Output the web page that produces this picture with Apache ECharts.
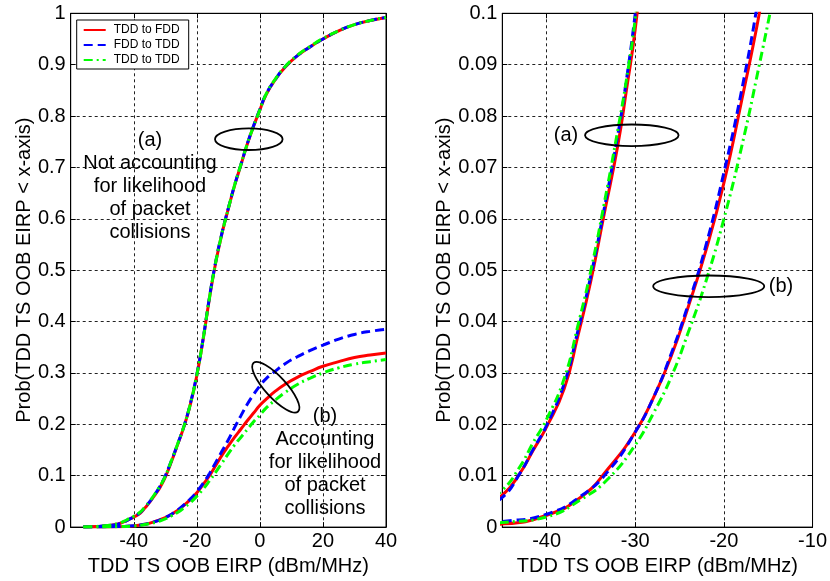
<!DOCTYPE html>
<html><head><meta charset="utf-8">
<script src="https://cdn.jsdelivr.net/npm/echarts@6/dist/echarts.min.js"></script>
<style>html,body{margin:0;padding:0;background:#fff}#c{width:830px;height:581px}</style>
</head><body><div id="c"></div>
<script>
const seriesNames = ['TDD to FDD', 'FDD to TDD', 'TDD to TDD'];
// curve group (a): not accounting for packet collisions
const xA = [-56,-52,-48,-45,-43,-41.5,-40,-38,-36.5,-35,-33.5,-32,-31,-30,-28,-26,-24,-22,-20,-18,-16,-14,-12,-10,-8,-6,-4,-2,0,2,5,8,12,16,20,25,30,35,40];
const redA = [0,0.001,0.003,0.0062,0.0105,0.015,0.0195,0.027,0.037,0.048,0.061,0.074,0.085,0.097,0.128,0.162,0.197,0.24,0.295,0.365,0.445,0.515,0.572,0.62,0.665,0.705,0.745,0.78,0.812,0.842,0.872,0.895,0.918,0.935,0.95,0.966,0.978,0.986,0.992];
const blueA = [0,0.001,0.003,0.0058,0.0105,0.0152,0.0198,0.028,0.038,0.049,0.062,0.076,0.087,0.1,0.13,0.163,0.198,0.242,0.297,0.367,0.447,0.517,0.573,0.621,0.666,0.706,0.746,0.781,0.813,0.843,0.872,0.896,0.918,0.935,0.95,0.966,0.978,0.986,0.992];
const greenA = [0,0.0012,0.0035,0.0072,0.0118,0.0165,0.021,0.029,0.039,0.05,0.063,0.077,0.087,0.099,0.13,0.163,0.198,0.241,0.296,0.366,0.446,0.516,0.572,0.62,0.666,0.706,0.746,0.78,0.812,0.843,0.873,0.896,0.919,0.936,0.951,0.966,0.978,0.986,0.992];
// curve group (b): accounting for packet collisions
const xB = [-56,-50,-45,-40,-36,-33,-30,-28,-26,-24,-22,-20,-18,-16,-14,-12,-10,-8,-6,-4,-2,0,2,5,8,12,16,20,25,30,35,40];
const redB = [0,0.0003,0.0006,0.0023,0.006,0.0115,0.0185,0.025,0.033,0.043,0.054,0.067,0.083,0.1,0.12,0.14,0.158,0.175,0.191,0.207,0.222,0.237,0.249,0.265,0.278,0.292,0.303,0.313,0.322,0.33,0.335,0.339];
const blueB = [0,0.0004,0.0011,0.0025,0.0062,0.011,0.0185,0.025,0.0335,0.0435,0.055,0.069,0.085,0.104,0.126,0.148,0.17,0.194,0.217,0.239,0.258,0.275,0.289,0.304,0.318,0.332,0.344,0.354,0.366,0.375,0.381,0.385];
const greenB = [0,0.0003,0.0009,0.002,0.0055,0.0095,0.016,0.022,0.029,0.038,0.048,0.06,0.074,0.09,0.107,0.125,0.143,0.16,0.175,0.19,0.205,0.218,0.232,0.248,0.262,0.278,0.29,0.3,0.31,0.317,0.322,0.326];

const FONT = '"Liberation Sans", Arial, sans-serif';
const colors = ['#ff0000', '#0000ff', '#00ff00'];
const dashes = ['solid', [9, 5], [9, 4, 2, 4]];
const curves = [[redA, redB], [blueA, blueB], [greenA, greenB]];
function pairs(xs, ys) { return xs.map((x, i) => [x, ys[i]]); }

const series = [];
for (let g = 0; g < 2; g++) for (let s = 0; s < 3; s++) for (let c = 0; c < 2; c++) {
  series.push({
    name: seriesNames[s], type: 'line', xAxisIndex: g, yAxisIndex: g,
    data: pairs(c === 0 ? xA : xB, curves[s][c]),
    showSymbol: false, symbol: 'none', smooth: 0.5,
    lineStyle: { color: colors[s], width: 3, type: dashes[s] },
    itemStyle: { color: colors[s] }, z: 3 + s, silent: true, clip: true
  });
}

const axisCommon = {
  type: 'value',
  axisLine: { show: true, onZero: false, lineStyle: { color: '#000', width: 1 } },
  axisTick: { show: true, inside: true, length: 5, lineStyle: { color: '#000' } },
  axisLabel: { color: '#000', fontSize: 20, fontFamily: FONT, margin: 5 },
  splitLine: { show: true, lineStyle: { color: '#222', width: 1, type: [3, 3] } },
  nameLocation: 'middle',
  nameTextStyle: { color: '#000', fontSize: 20, fontFamily: FONT }
};
const xName = 'TDD TS OOB EIRP (dBm/MHz)';
const yName = 'Prob(TDD TS OOB EIRP < x-axis)';
function ax(extra) { return Object.assign({}, axisCommon, extra); }
function sec(extra) {
  return Object.assign({}, axisCommon, { axisLabel: { show: false }, splitLine: { show: false }, name: '' }, extra);
}

const option = {
  animation: false,
  backgroundColor: '#fff',
  grid: [
    { left: 70.7, top: 13.3, width: 315.3, height: 515, show: true, borderColor: '#000', borderWidth: 1, backgroundColor: 'transparent' },
    { left: 502.3, top: 13.3, width: 316, height: 515, show: true, borderColor: '#000', borderWidth: 1, backgroundColor: 'transparent' }
  ],
  xAxis: [
    ax({ gridIndex: 0, min: -60, max: 40, interval: 20, name: xName, nameGap: 27,
         axisLabel: Object.assign({}, axisCommon.axisLabel, { showMinLabel: false, margin: 4 }) }),
    ax({ gridIndex: 1, min: -45, max: -10, splitNumber: 4, name: xName, nameGap: 27,
         axisLabel: Object.assign({}, axisCommon.axisLabel, { showMinLabel: false, margin: 4 }) }),
    sec({ gridIndex: 0, position: 'top', min: -60, max: 40, interval: 20 }),
    sec({ gridIndex: 1, position: 'top', min: -45, max: -10, splitNumber: 4 })
  ],
  yAxis: [
    ax({ gridIndex: 0, min: 0, max: 1, interval: 0.1, name: yName, nameGap: 36 }),
    ax({ gridIndex: 1, min: 0, max: 0.1, interval: 0.01, name: yName, nameGap: 38 }),
    sec({ gridIndex: 0, position: 'right', min: 0, max: 1, interval: 0.1 }),
    sec({ gridIndex: 1, position: 'right', min: 0, max: 0.1, interval: 0.01 })
  ],
  legend: {
    data: seriesNames, left: 76.7, top: 20, orient: 'vertical',
    padding: [4, 9, 3, 6], itemGap: 3, itemWidth: 22, itemHeight: 13,
    backgroundColor: '#fff', borderColor: '#000', borderWidth: 1, borderRadius: 0,
    itemStyle: { color: 'transparent', borderWidth: 0, opacity: 0 },
    textStyle: { fontSize: 12, color: '#000', fontFamily: FONT, padding: [0, 0, 0, 3] },
    selectedMode: false, z: 50
  },
  series: series,
  graphic: [
    { type: 'ellipse', x: 248.8, y: 139.2, shape: { cx: 0, cy: 0, rx: 33.8, ry: 10.8 }, style: { fill: 'none', stroke: '#000', lineWidth: 1.8 }, z: 100 },
    { type: 'ellipse', x: 275.8, y: 387.2, rotation: -47.5 * Math.PI / 180, shape: { cx: 0, cy: 0, rx: 33, ry: 10.5 }, style: { fill: 'none', stroke: '#000', lineWidth: 1.8 }, z: 100 },
    { type: 'ellipse', x: 631.8, y: 135.3, shape: { cx: 0, cy: 0, rx: 46.8, ry: 10.8 }, style: { fill: 'none', stroke: '#000', lineWidth: 1.8 }, z: 100 },
    { type: 'ellipse', x: 708.7, y: 286.3, shape: { cx: 0, cy: 0, rx: 55.5, ry: 10.8 }, style: { fill: 'none', stroke: '#000', lineWidth: 1.8 }, z: 100 },
    { type: 'text', x: 150, y: 186, z: 100, style: { text: '(a)\nNot accounting\nfor likelihood\nof packet\ncollisions', font: '20px ' + FONT, fill: '#000', align: 'center', verticalAlign: 'middle', textAlign: 'center', textVerticalAlign: 'middle', lineHeight: 23 } },
    { type: 'text', x: 325, y: 462.5, z: 100, style: { text: '(b)\nAccounting\nfor likelihood\nof packet\ncollisions', font: '20px ' + FONT, fill: '#000', align: 'center', verticalAlign: 'middle', textAlign: 'center', textVerticalAlign: 'middle', lineHeight: 23 } },
    { type: 'text', x: 566, y: 135, z: 100, style: { text: '(a)', font: '20px ' + FONT, fill: '#000', align: 'center', verticalAlign: 'middle', textAlign: 'center', textVerticalAlign: 'middle' } },
    { type: 'text', x: 781, y: 286.7, z: 100, style: { text: '(b)', font: '20px ' + FONT, fill: '#000', align: 'center', verticalAlign: 'middle', textAlign: 'center', textVerticalAlign: 'middle' } }
  ]
};
const chart = echarts.init(document.getElementById('c'), null, { renderer: 'canvas' });
chart.setOption(option);
</script>
</body></html>
